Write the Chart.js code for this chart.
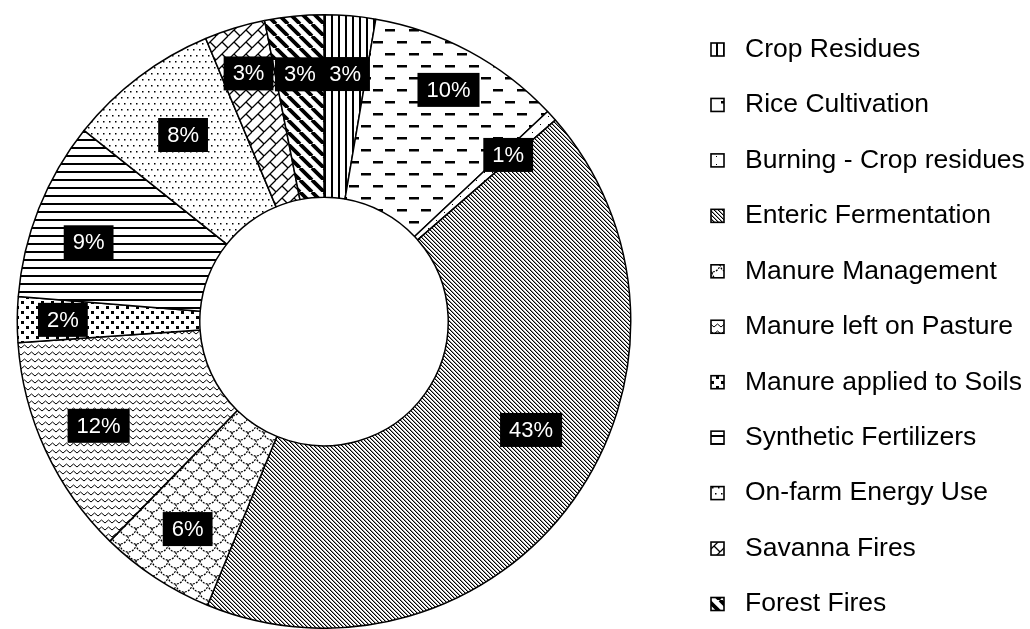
<!DOCTYPE html>
<html>
<head>
<meta charset="utf-8">
<script src="https://cdn.jsdelivr.net/npm/chart.js@4.4.1/dist/chart.umd.min.js"></script>
<style>
  html, body { margin: 0; padding: 0; background: #fff; }
  canvas { display: block; }
</style>
</head>
<body>
<canvas id="myChart" width="1030" height="629"></canvas>
<script>
// categories and their shares (%)
const categories = [
  "Crop Residues",
  "Rice Cultivation",
  "Burning - Crop residues",
  "Enteric Fermentation",
  "Manure Management",
  "Manure left on Pasture",
  "Manure applied to Soils",
  "Synthetic Fertilizers",
  "On-farm Energy Use",
  "Savanna Fires",
  "Forest Fires",
];
const shares = [2.7, 10.3, 0.6, 42.6, 6.1, 11.6, 2.4, 9.4, 8.0, 3.2, 3.1];

// small pattern tiles, black on white
function tile(w, h, draw) {
  const c = document.createElement("canvas");
  c.width = w;
  c.height = h;
  const g = c.getContext("2d");
  g.fillStyle = "#fff";
  g.fillRect(0, 0, w, h);
  g.fillStyle = "#000";
  g.strokeStyle = "#000";
  draw(g, w, h);
  return g.createPattern(c, "repeat");
}

function diagBack(g, n) {
  g.beginPath();
  for (let k = -1; k <= 1; k++) {
    g.moveTo(k * n, 0);
    g.lineTo(k * n + n, n);
  }
  g.stroke();
}

function diagFwd(g, n) {
  g.beginPath();
  for (let k = -1; k <= 1; k++) {
    g.moveTo(k * n, n);
    g.lineTo(k * n + n, 0);
  }
  g.stroke();
}

const patterns = [
  // crop residues - vertical lines
  tile(7, 7, (g) => g.fillRect(2, 0, 2, 7)),
  // rice - staggered dashes
  tile(24, 24, (g) => {
    g.fillRect(1, 5, 10, 2.5);
    g.fillRect(13, 17, 10, 2.5);
  }),
  // burning - sparse dots
  tile(8, 8, (g) => g.fillRect(4, 4, 1, 1)),
  // enteric - fine diagonal
  tile(4, 4, (g) => {
    for (let i = 0; i < 4; i++) {
      g.fillStyle = "#000";
      g.fillRect(i, i, 1, 1);
      g.fillStyle = "#999";
      g.fillRect((i + 1) % 4, i, 1, 1);
    }
  }),
  // manure management - scales
  tile(16, 16, (g) => {
    g.lineWidth = 1.2;
    g.setLineDash([2, 1.2]);
    const centres = [[0, 0], [16, 0], [8, 8], [0, 16], [16, 16], [8, -8]];
    for (const [x, y] of centres) {
      g.beginPath();
      g.arc(x, y, 8, 0, Math.PI);
      g.stroke();
    }
  }),
  // manure left on pasture - zigzag
  tile(7, 7, (g) => {
    g.lineWidth = 1;
    g.beginPath();
    g.moveTo(0, 5);
    g.lineTo(3.5, 2);
    g.lineTo(7, 5);
    g.stroke();
  }),
  // manure applied - square dots
  tile(10, 10, (g) => {
    g.fillRect(1, 1, 3, 3);
    g.fillRect(6, 6, 3, 3);
  }),
  // synthetic fertilizers - horizontal lines
  tile(8, 8, (g) => g.fillRect(0, 3, 8, 2)),
  // on-farm energy - fine dots
  tile(6, 12, (g) => {
    g.fillRect(1, 1, 1.5, 1.5);
    g.fillRect(4, 7, 1.5, 1.5);
  }),
  // savanna - diagonal bricks
  tile(12, 12, (g) => {
    g.lineWidth = 1.3;
    diagFwd(g, 12);
    g.beginPath();
    g.moveTo(6, 6);
    g.lineTo(12, 12);
    g.stroke();
  }),
  // forest - wide diagonal stripes
  tile(12, 12, (g) => {
    g.lineWidth = 3.8;
    diagBack(g, 12);
  }),
];

// percentage boxes on the ring
const boxLabels = {
  id: "boxLabels",
  afterDatasetsDraw(chart, args, opts) {
    const ctx = chart.ctx;
    const data = chart.data.datasets[0].data;
    const total = data.reduce((s, v) => s + v, 0);
    const meta = chart.getDatasetMeta(0);
    ctx.save();
    ctx.font = "22px 'Liberation Sans', Arial, sans-serif";
    ctx.textAlign = "center";
    ctx.textBaseline = "middle";
    meta.data.forEach((arc, i) => {
      const p = arc.getProps(["x", "y", "startAngle", "endAngle", "innerRadius", "outerRadius"], true);
      const tweak = opts.tweaks[i] || {};
      const mid = (p.startAngle + p.endAngle) / 2 + ((tweak.angle || 0) * Math.PI) / 180;
      const frac = tweak.r !== undefined ? tweak.r : opts.frac;
      const r = p.innerRadius + frac * (p.outerRadius - p.innerRadius);
      const x = p.x + Math.cos(mid) * r;
      const y = p.y + Math.sin(mid) * r;
      const text = Math.round((data[i] / total) * 100) + "%";
      const w = ctx.measureText(text).width + 18;
      const h = 34;
      ctx.fillStyle = "#000";
      ctx.fillRect(x - w / 2, y - h / 2, w, h);
      ctx.fillStyle = "#fff";
      ctx.fillText(text, x, y + 1);
    });
    ctx.restore();
  },
};

// legend on the right, one row per category
const sideLegend = {
  id: "sideLegend",
  afterDraw(chart, args, opts) {
    const ctx = chart.ctx;
    const ds = chart.data.datasets[0];
    ctx.save();
    ctx.font = "26.5px 'Liberation Sans', Arial, sans-serif";
    ctx.textBaseline = "middle";
    ctx.textAlign = "left";
    chart.data.labels.forEach((label, i) => {
      const y = opts.top + i * opts.step;
      ctx.fillStyle = ds.backgroundColor[i];
      ctx.fillRect(opts.boxX, y - 6.5, 13, 13);
      ctx.lineWidth = 1.6;
      ctx.strokeStyle = "#000";
      ctx.strokeRect(opts.boxX, y - 6.5, 13, 13);
      ctx.fillStyle = "#000";
      ctx.fillText(label, opts.textX, y);
    });
    ctx.restore();
  },
};

const ctx = document.getElementById("myChart").getContext("2d");

const myChart = new Chart(ctx, {
  type: "doughnut",
  data: {
    labels: categories,
    datasets: [
      {
        data: shares,
        backgroundColor: patterns,
        borderColor: "#000",
        borderWidth: 1.5,
        hoverOffset: 0,
      },
    ],
  },
  options: {
    responsive: false,
    animation: false,
    cutout: "40.5%",
    rotation: 0,
    layout: { padding: { left: 16, right: 398, top: 14, bottom: 0 } },
    plugins: {
      legend: { display: false },
      tooltip: { enabled: false },
      boxLabels: {
        frac: 0.68,
        tweaks: {
          1: { r: 0.76 },
          3: { angle: -8, r: 0.6 },
          6: { r: 0.75 },
          7: { angle: -3 },
          8: { r: 0.6 },
          9: { r: 0.74 },
        },
      },
      sideLegend: { top: 49.5, step: 55.45, boxX: 711, textX: 745 },
    },
  },
  plugins: [boxLabels, sideLegend],
});
</script>
</body>
</html>
